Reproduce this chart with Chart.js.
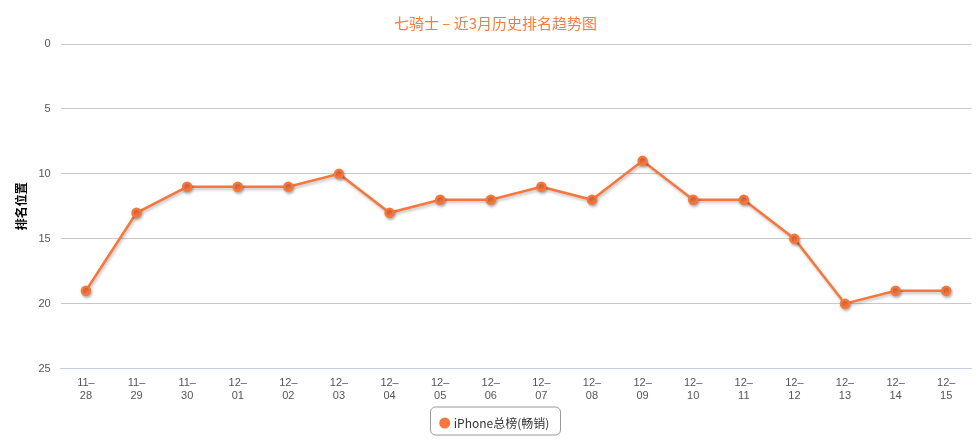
<!DOCTYPE html>
<html><head><meta charset="utf-8">
<script src="https://cdn.jsdelivr.net/npm/chart.js@4"></script>
<style>html,body{margin:0;padding:0;background:#fff}#w{width:978px;height:445px;position:relative}</style>
</head><body><div id="w"><canvas id="c"></canvas></div>
<script>
const categories=["11-28","11-29","11-30","12-01","12-02","12-03","12-04","12-05","12-06","12-07","12-08","12-09","12-10","12-11","12-12","12-13","12-14","12-15"];
const ranks=[19,13,11,11,11,10,13,12,12,11,12,9,12,12,15,20,19,19];
const yTicks=[0,5,10,15,20,25];
const shadow={id:'shadow',beforeDatasetDraw(ch){const c=ch.ctx;c.save();c.shadowColor='rgba(0,0,0,0.25)';c.shadowOffsetX=1;c.shadowOffsetY=2;c.shadowBlur=3;},afterDatasetDraw(ch){ch.ctx.restore();}};
new Chart(document.getElementById('c'),{type:'line',
data:{labels:categories.map(s=>[s.slice(0,2)+'–',s.slice(3)]),datasets:[{label:'iPhone总榜(畅销)',data:ranks,borderColor:'#f7763c',backgroundColor:'#f7763c',borderWidth:2.5,pointRadius:4,pointHoverRadius:4,tension:0}]},
options:{responsive:true,maintainAspectRatio:false,animation:false,
layout:{padding:{left:14,right:1,top:10,bottom:6}},
plugins:{title:{display:true,text:'七骑士 – 近3月历史排名趋势图',color:'#f47c3c',font:{size:15,family:'Noto Sans CJK SC',weight:'normal'},padding:{top:4,bottom:12}},
legend:{position:'bottom',labels:{usePointStyle:true,pointStyle:'circle',boxWidth:6,boxHeight:6,color:'#333',font:{size:12,family:'Noto Sans CJK SC'},padding:14}}},
scales:{x:{offset:true,grid:{display:false,drawTicks:true},border:{color:'#c0d0e0'},ticks:{color:'#555',font:{size:11},maxRotation:0,autoSkip:false,padding:0}},
y:{reverse:true,min:0,max:25,afterBuildTicks(a){a.ticks=yTicks.map(v=>({value:v}));},grid:{color:'#c8c8c8',drawTicks:false},border:{display:false},ticks:{color:'#555',font:{size:11},padding:10},
title:{display:true,text:'排名位置',color:'#000',font:{size:12,weight:'bold',family:'Noto Sans CJK SC'},padding:0}}}},
plugins:[shadow,{id:'lb',afterDraw(ch){const l=ch.legend,c=ch.ctx;c.save();c.strokeStyle='#999';c.lineWidth=1;const w=130,x=l.left+(l.width-w)/2,y=l.top+4,h=28;c.beginPath();c.roundRect(x,y,w,h,5);c.stroke();c.restore();}}]
});
</script></body></html>
